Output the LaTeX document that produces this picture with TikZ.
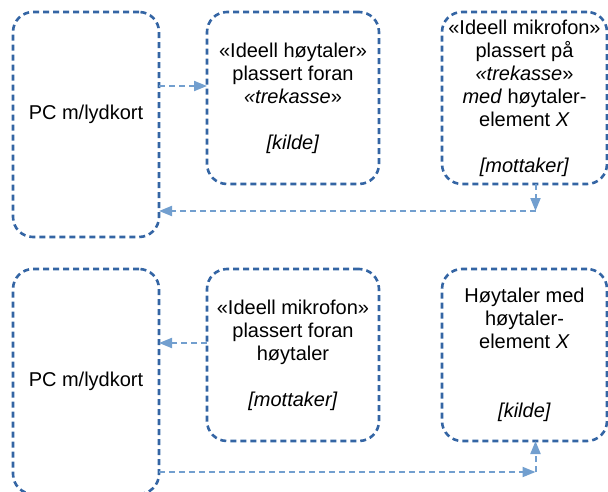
\documentclass[tikz,border=0pt]{standalone}
\usepackage{fontspec}
\setmainfont{Liberation Sans}
\usepackage{xcolor}
\usepackage{tikz}
\usetikzlibrary{arrows.meta, positioning}

\definecolor{boxblue}{HTML}{3465A4}
\definecolor{arrowblue}{HTML}{729FCF}

\begin{document}
\begin{tikzpicture}[
  x=1pt, y=-1pt,
  box/.style={rectangle, draw=boxblue, line width=2.6pt,
              dash pattern=on 6pt off 4pt, rounded corners=20pt,
              inner sep=0pt, outer sep=0pt, align=center,
              font=\fontsize{20}{23}\selectfont,
              minimum width=#1},
  arr/.style={-{Triangle[length=13pt,width=10pt]}, line width=2pt,
              arrowblue, dash pattern=on 6pt off 4pt}
]
\useasboundingbox (0,0) rectangle (608,492);

% Top row: PC -> speaker, microphone -> PC
\node[box=146pt, minimum height=225pt, text depth=24pt, anchor=north west] (pc1) at (13,12) {PC m/lydkort};
\node[box=172pt, minimum height=172pt, right=48pt of pc1.north east, anchor=north west] (spk1)
  {«Ideell høytaler»\\plassert foran\\\textit{«trekasse}»\\[23pt]\textit{[kilde]}};
\node[box=165pt, minimum height=172pt, right=63pt of spk1.north east, anchor=north west] (mic1)
  {«Ideell mikrofon»\\plassert på\\\textit{«trekasse}»\\\textit{med} høytaler-\\element \textit{X}\\[23pt]\textit{[mottaker]}};

% Bottom row: PC -> speaker, microphone -> PC
\node[box=146pt, minimum height=225pt, below=32pt of pc1] (pc2) {PC m/lydkort};
\node[box=172pt, minimum height=172pt, right=48pt of pc2.north east, anchor=north west] (mic2)
  {«Ideell mikrofon»\\plassert foran\\høytaler\\[23pt]\textit{[mottaker]}};
\node[box=165pt, minimum height=172pt, right=63pt of mic2.north east, anchor=north west] (spk2)
  {Høytaler med\\høytaler-\\element \textit{X}\\[46pt]\textit{[kilde]}};

% Connectors
\coordinate (a1) at ([yshift=12pt]spk1.west);
\draw[arr] (a1 -| pc1.east) -- (a1);
\coordinate (k1) at ([xshift=11pt,yshift=-27pt]mic1.south);
\draw[arr] (k1 |- mic1.south) -- (k1);
\draw[arr] (k1) -- (k1 -| pc1.east);

\coordinate (a2) at ([yshift=12pt]mic2.west);
\draw[arr] (a2) -- (a2 -| pc2.east);
\coordinate (k2) at ([xshift=11pt,yshift=-31pt]spk2.south);
\draw[arr] (k2 -| pc2.east) -- (k2);
\draw[arr] (k2) -- (k2 |- spk2.south);

\end{tikzpicture}
\end{document}
